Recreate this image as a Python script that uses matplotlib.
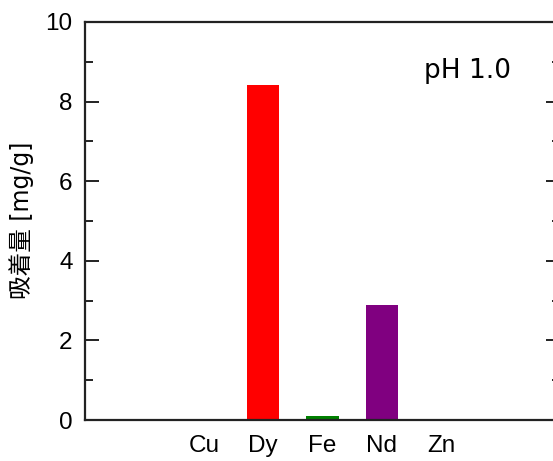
import matplotlib
matplotlib.use("Agg")
import matplotlib.pyplot as plt
from matplotlib.ticker import MultipleLocator

# Adsorbed amount per metal at pH 1.0
metals = ["Cu", "Dy", "Fe", "Nd", "Zn"]
adsorbed = [0.0, 8.42, 0.09, 2.9, 0.0]
bar_colors = ["#000000", "#ff0000", "#008000", "#800080", "#000000"]

W, H = 553, 461
fig = plt.figure(figsize=(W / 100, H / 100), dpi=100)
ax = fig.add_axes([85 / W, 1 - 420 / H, (560 - 85) / W, (420 - 22) / H])

x = list(range(len(metals)))
ax.bar(x, adsorbed, width=0.55, color=bar_colors, zorder=2)

ax.set_xlim(-2, 6)
ax.set_ylim(0, 10)
ax.set_xticks(x)
ax.set_xticklabels(metals)
ax.yaxis.set_major_locator(MultipleLocator(2))
ax.yaxis.set_minor_locator(MultipleLocator(1))

for s in ax.spines.values():
    s.set_linewidth(1.6)
    s.set_color("#222222")

ax.tick_params(axis="y", which="both", direction="in", left=True, right=True,
               width=1.4, color="#222222")
ax.tick_params(axis="y", which="major", length=10, pad=9)
ax.tick_params(axis="y", which="minor", length=6)
ax.tick_params(axis="x", length=0, pad=11)

for lab in ax.get_yticklabels() + ax.get_xticklabels():
    lab.set_fontfamily("Liberation Sans")
    lab.set_fontsize(17.5)

fig.text(22 / W, 1 - 220 / H, "吸着量 [mg/g]", rotation=90,
         family=["DejaVu Sans", "Noto Sans CJK JP"], fontsize=17,
         ha="center", va="center")

fig.text(467 / W, 1 - 71 / H, "pH 1.0", fontsize=19, family="DejaVu Sans",
         ha="center", va="center")

fig.savefig("out.png", dpi=100)
